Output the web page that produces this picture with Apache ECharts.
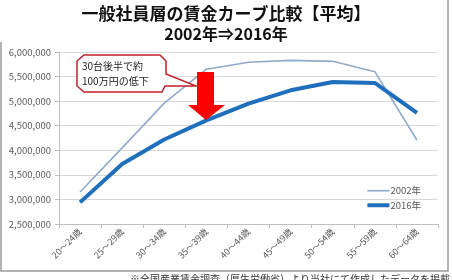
<!DOCTYPE html>
<html><head><meta charset="utf-8">
<script src="https://cdn.jsdelivr.net/npm/echarts@6/dist/echarts.min.js"></script>
<style>html,body{margin:0;padding:0;background:#fff}#c{width:452px;height:280px}</style>
</head><body><div id="c"></div>
<script>
var categories = ['20～24歳','25～29歳','30～34歳','35～39歳','40～44歳','45～49歳','50～54歳','55～59歳','60～64歳'];
var series2002 = [3150000, 4050000, 4960000, 5650000, 5790000, 5830000, 5810000, 5600000, 4210000];
var series2016 = [2940000, 3720000, 4220000, 4610000, 4950000, 5220000, 5390000, 5370000, 4760000];
var yTicks = [2500000, 3000000, 3500000, 4000000, 4500000, 5000000, 5500000, 6000000];
var titleText = '一般社員層の賃金カーブ比較【平均】';
var subText = '2002年⇒2016年';
var noteLines = ['30台後半で約', '100万円の低下'];
var footText = '※全国産業賃金調査（厚生労働省）より当社にて作成したデータを掲載';

var chart = echarts.init(document.getElementById('c'));
var font = '"Noto Sans CJK JP", "Noto Sans", sans-serif';
chart.setOption({
  animation: false,
  textStyle: {fontFamily: font},
  title: [
    {text: titleText, left: 'center', top: 0, textStyle: {fontSize: 17, fontWeight: 'bold', color: '#111', fontFamily: font}},
    {text: subText, left: 'center', top: 21, textStyle: {fontSize: 16, fontWeight: 'bold', color: '#111', fontFamily: font}}
  ],
  grid: {left: 59, right: 14, top: 52, bottom: 56, containLabel: false},
  legend: {
    orient: 'vertical', right: 26, top: 181, itemWidth: 22, itemHeight: 12, itemGap: 5,
    textStyle: {fontSize: 9.5, color: '#595959', padding: [0,0,0,-4]},
    data: [
      {name: '2002年', icon: 'path://M0,0 H22 V1.6 H0 Z'},
      {name: '2016年', icon: 'path://M0,0 H22 V4 H0 Z'}
    ]
  },
  xAxis: {
    type: 'category', data: categories, boundaryGap: true,
    axisLine: {lineStyle: {color: '#BFBFBF'}},
    axisTick: {show: true, length: 4, lineStyle: {color: '#BFBFBF'}},
    axisLabel: {rotate: 45, fontSize: 9, color: '#595959', margin: 6, interval: 0}
  },
  yAxis: {
    type: 'value', min: yTicks[0], max: yTicks[yTicks.length-1], interval: 500000,
    axisLine: {show: true, lineStyle: {color: '#BFBFBF'}},
    axisTick: {show: true, length: 4, lineStyle: {color: '#BFBFBF'}},
    splitLine: {lineStyle: {color: '#D9D9D9'}},
    axisLabel: {fontSize: 9.5, color: '#595959', margin: 8,
      formatter: function(v){ return v.toLocaleString('en-US'); }}
  },
  series: [
    {name: '2002年', type: 'line', data: series2002, symbol: 'none',
     lineStyle: {width: 1.6, color: '#8FAACB'}, itemStyle: {color: '#8FAACB'}},
    {name: '2016年', type: 'line', data: series2016, symbol: 'none',
     lineStyle: {width: 4, color: '#1F6FBD'}, itemStyle: {color: '#1F6FBD'}}
  ],
  graphic: [
    {type: 'polyline', shape: {points: [[1,42],[1,271],[448,271],[448,0]]}, style: {stroke: '#9A9A9A', lineWidth: 1.5, fill: null}},
    {type: 'polygon', z: 10, shape: {points: [[84,55],[160,55],[166,61],[166,74],[196,86],[165,86],[162,92],[84,92],[77,86],[77,61]]},
     style: {fill: '#fff', stroke: '#C0222B', lineWidth: 1.5}},
    {type: 'text', z: 11, left: 82, top: 59, style: {text: noteLines.join('\n'), fontSize: 10, lineHeight: 15, fill: '#222', fontFamily: font}},
    {type: 'polygon', z: 10, shape: {points: [[197,72],[214,72],[214,105],[225,105],[206,120],[188,105],[197,105]]},
     style: {fill: '#FF0000', stroke: null}},
    {type: 'text', z: 11, left: 130, top: 274, style: {text: footText, fontSize: 10, fill: '#333', fontFamily: font}}
  ]
});
</script></body></html>
